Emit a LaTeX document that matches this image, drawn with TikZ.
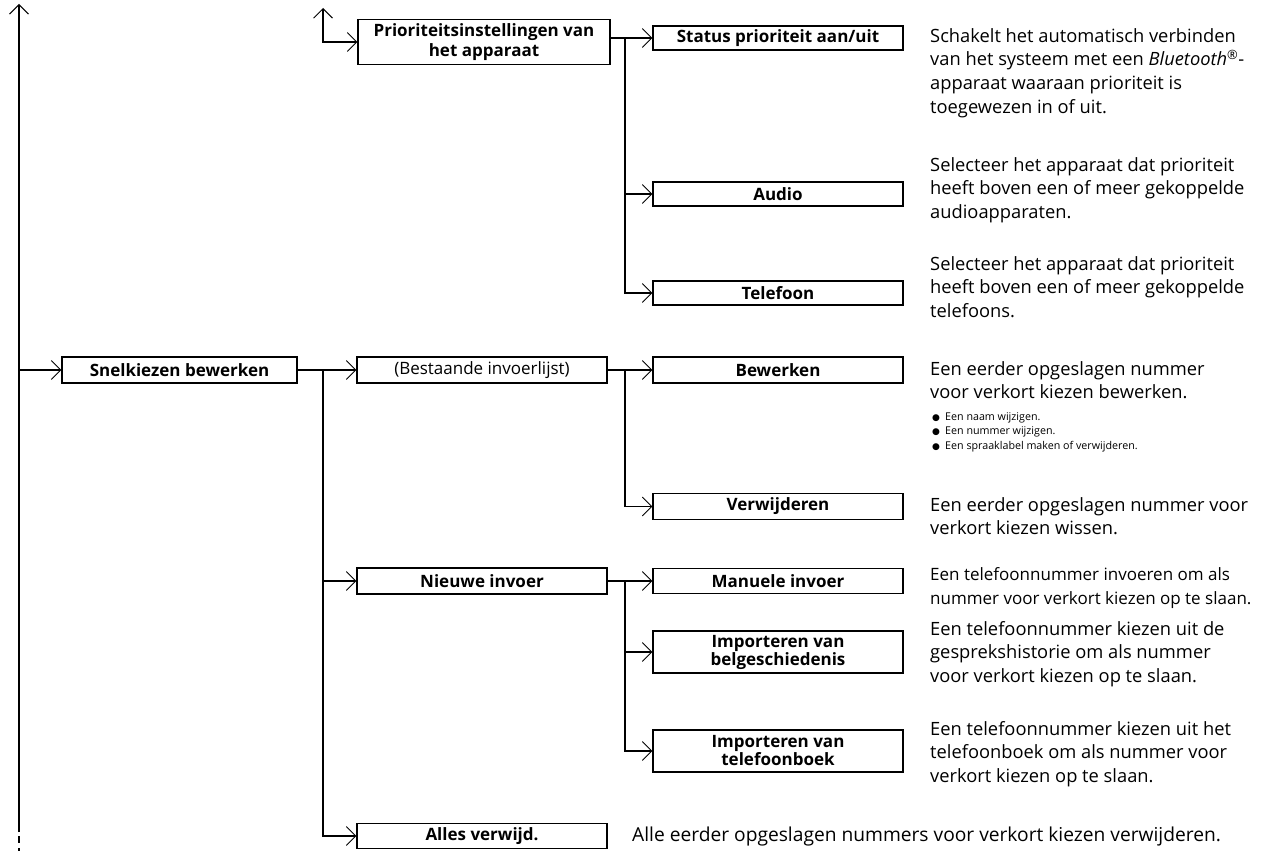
\documentclass[tikz,border=0pt]{standalone}
\usepackage{fontspec}
\setmainfont{Open Sans}
\newfontfamily\djv{DejaVu Sans}
\usetikzlibrary{arrows.meta}
\newcommand{\blt}{\makebox[13pt][l]{\djv\fontsize{9}{9}\selectfont ●}}
\begin{document}
\begin{tikzpicture}[x=1pt,y=-1pt,
  barb/.tip={Straight Barb[length=9.5pt,width=19pt,line width=0.9pt]},
  conn/.style={line width=1.9pt},
  arr/.style={conn,-barb},
  box/.style={draw,line width=1.1pt,minimum width=250pt,minimum height=26pt,inner sep=1pt,
    font=\bfseries\fontsize{17}{21}\selectfont,align=center},
  desc/.style={anchor=base west,inner sep=0pt,align=left,font=\fontsize{18.3}{23.8}\selectfont},
  bul/.style={anchor=base west,inner sep=0pt,align=left,font=\fontsize{10.7}{14.5}\selectfont}]
\useasboundingbox (0,0) rectangle (1279,851);
% boxes
\node[box,minimum width=235pt] (snel) at (179.5,370) {Snelkiezen bewerken};
\node[box] (best) at (482,370) {\mdseries(Bestaande invoerlijst)};
\node[box] (nieuw) at (482,581) {Nieuwe invoer};
\node[box,minimum height=25pt] (alles) at (482,836) {Alles verwijd.};
\node[box,minimum width=252pt,minimum height=45pt] (prio) at (484,42) {Prioriteitsinstellingen van\\[-1pt]het apparaat};
\node[box,minimum height=24pt] (stat) at (778,38) {Status prioriteit aan/uit};
\node[box,minimum height=24pt] (aud) at (778,194) {Audio};
\node[box,minimum height=24pt] (tel) at (778,293) {Telefoon};
\node[box] (bew) at (778,370) {Bewerken};
\node[box] (verw) at (778,506.5) {Verwijderen};
\node[box,minimum height=25pt] (man) at (778,581) {Manuele invoer};
\node[box,minimum height=42pt] (imb) at (778,652) {Importeren van\\[-3pt]belgeschiedenis};
\node[box,minimum height=42pt] (imt) at (778,751) {Importeren van\\[-3pt]telefoonboek};
% main vertical
\coordinate (mtop) at (19,4);
\coordinate (mbot) at (19,832);
\coordinate (d1) at (19,836);
\coordinate (d2) at (19,843);
\coordinate (d3) at (19,848);
\coordinate (d4) at (19,851);
\draw[arr] (mbot) -- (mtop);
\draw[conn] (d1) -- (d2) (d3) -- (d4);
\draw[arr] (mbot |- snel.west) -- (snel.west);
% second column
\coordinate (b1) at (323,370);
\draw[conn] (snel.east) -- (b1);
\draw[arr] (b1) -- (best.west);
\draw[arr] (b1) |- (nieuw.west);
\draw[arr] (b1) |- (alles.west);
\coordinate (ptop) at (323,8);
\draw[conn,barb-barb] (ptop) -- (ptop |- prio.west) -- (prio.west);
% third column
\coordinate (b4) at (625,38);
\draw[conn] (prio.east |- b4) -- (b4);
\draw[arr] (b4) -- (stat.west);
\draw[arr] (b4) |- (aud.west);
\draw[arr] (b4) |- (tel.west);
\coordinate (b2) at (625,370);
\draw[conn] (best.east) -- (b2);
\draw[arr] (b2) -- (bew.west);
\draw[arr] (b2) |- (verw.west);
\coordinate (b3) at (625,581);
\draw[conn] (nieuw.east) -- (b3);
\draw[arr] (b3) -- (man.west);
\draw[arr] (b3) |- (imb.west);
\draw[arr] (b3) |- (imt.west);
% descriptions (anchored at the baseline of their last line)
\node[desc] (dstat) at (930,113.4) {Schakelt het automatisch verbinden\\van het systeem met een \emph{Bluetooth}\textsuperscript{®}-\\apparaat waaraan prioriteit is\\toegewezen in of uit.};
\node[desc] (daud) at (930,218.6) {Selecteer het apparaat dat prioriteit\\heeft boven een of meer gekoppelde\\audioapparaten.};
\node[desc] (dtel) at (930,317.6) {Selecteer het apparaat dat prioriteit\\heeft boven een of meer gekoppelde\\telefoons.};
\node[desc] (dbew) at (930,398.8) {Een eerder opgeslagen nummer\\voor verkort kiezen bewerken.};
\node[bul] (dbul) at (932,449) {\blt Een naam wijzigen.\\\blt Een nummer wijzigen.\\\blt Een spraaklabel maken of verwijderen.};
\node[desc] (dverw) at (930,534.8) {Een eerder opgeslagen nummer voor\\verkort kiezen wissen.};
\node[desc,font=\fontsize{17}{24}\selectfont] (dman) at (930,604) {Een telefoonnummer invoeren om als\\nummer voor verkort kiezen op te slaan.};
\node[desc] (dimb) at (930,682.6) {Een telefoonnummer kiezen uit de\\gesprekshistorie om als nummer\\voor verkort kiezen op te slaan.};
\node[desc] (dimt) at (930,782.6) {Een telefoonnummer kiezen uit het\\telefoonboek om als nummer voor\\verkort kiezen op te slaan.};
\node[desc,font=\fontsize{19.2}{24}\selectfont] (dall) at (632,841) {Alle eerder opgeslagen nummers voor verkort kiezen verwijderen.};
\end{tikzpicture}
\end{document}
